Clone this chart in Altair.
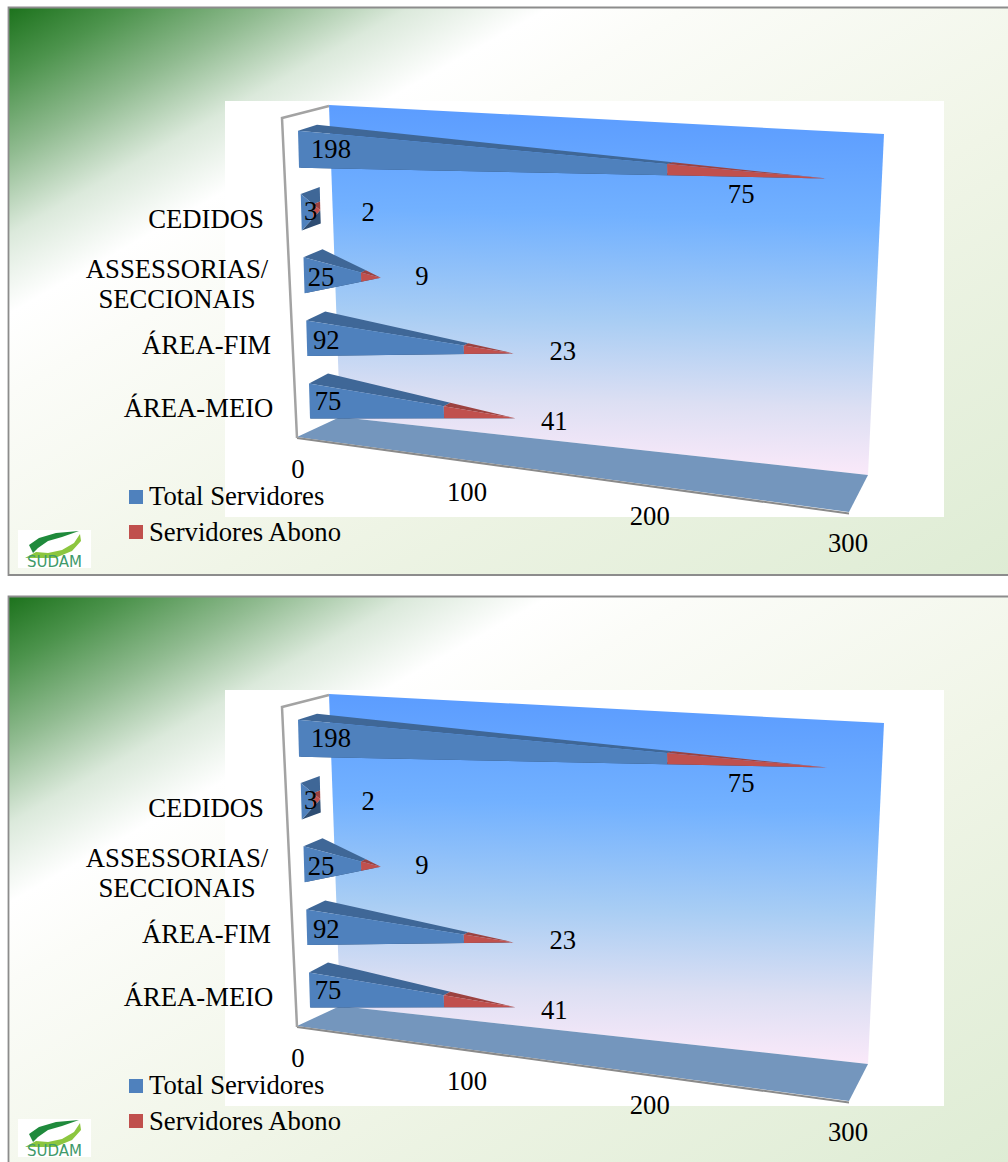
import altair as alt
import pandas as pd

# Chart values, listed from the bottom row upwards
categories = ["ÁREA-MEIO", "ÁREA-FIM", "ASSESSORIAS/\nSECCIONAIS", "CEDIDOS", ""]
total_servidores = [75, 92, 25, 3, 198]
servidores_abono = [41, 23, 9, 2, 75]
axis_ticks = [0, 100, 200, 300]
series_names = ["Total Servidores", "Servidores Abono"]

W, H = 1008, 1162
PANEL_OFFSETS = [0, 589]
SERIF = "Liberation Serif"
TEXT_SIZE = 26.7
BLUE, BLUE_DARK, BLUE_DEEP = "#4f81bd", "#3f6797", "#2e4d73"
RED, RED_DARK = "#c0504d", "#9c4240"

# Per-row corrections for the foreshortening of the 3D rows
reach_nudge = [-2, 1, 7, -6, -2]
split_nudge = [4, -5, 6, -3, 8]


# Perspective helpers for the pseudo-3D bar chart
def bar_length(v):
    return 1.5 * v / (1 - 0.00074 * v)


def tick_length(v):
    return 1.627 * v / (1 - 0.000375 * v)


def lerp(a, b, f):
    return (a[0] + (b[0] - a[0]) * f, a[1] + (b[1] - a[1]) * f)


def polygons_for_row(i, v1, v2):
    x0 = 309 - 2.75 * i
    yb = 418.6 - 62.7 * i
    h = 35 + 0.5 * i
    dy = 10 - i
    b1 = (x0 + 1, yb)
    t1 = (x0, yb - h)
    t2 = (x0 + 19, yb - h - dy)
    b2 = (x0 + 20, yb - dy)
    reach = bar_length(v1 + v2) + 18 + reach_nudge[i]
    apex = (x0 + reach, yb - h / 2 - dy / 2 + (0.107 - 0.0115 * i) * reach)
    f = (bar_length(v1) + 18 * v1 / (v1 + v2) + split_nudge[i]) / reach
    b1f, t1f, t2f = lerp(b1, apex, f), lerp(t1, apex, f), lerp(t2, apex, f)
    return apex, [
        ([b1, b2, apex], BLUE_DEEP),
        ([t1, t2, t2f, t1f], BLUE_DARK),
        ([t1f, t2f, apex], RED_DARK),
        ([b1, t1, t1f, b1f], BLUE),
        ([b1f, t1f, apex], RED),
    ]


def frame(points, **extra):
    rows = [{"x": p[0], "y": p[1], "order": n, **extra} for n, p in enumerate(points)]
    return pd.DataFrame(rows)


SCALE_X = alt.Scale(domain=[0, W], range=[0, W])
SCALE_Y = alt.Scale(domain=[0, H], range=[0, H])
X = alt.X("x:Q", scale=SCALE_X, axis=None)
Y = alt.Y("y:Q", scale=SCALE_Y, axis=None)


def shift(points, off):
    return [(a, b + off) for a, b in points]


def filled(points, paint):
    return (
        alt.Chart(frame(points))
        .mark_line(fill=paint, strokeWidth=0, strokeOpacity=0, interpolate="linear")
        .encode(x=X, y=Y, order="order:Q")
    )


def stroked(points, colour, width):
    return (
        alt.Chart(frame(points))
        .mark_line(color=colour, strokeWidth=width, strokeJoin="miter")
        .encode(x=X, y=Y, order="order:Q")
    )


def box(x1, y1, x2, y2, paint):
    df = pd.DataFrame([{"x": x1, "y": y1, "x2": x2, "y2": y2}])
    return (
        alt.Chart(df)
        .mark_rect(fill=paint)
        .encode(x=X, y=Y, x2="x2:Q", y2="y2:Q")
    )


def linear(stops, x1, y1, x2, y2):
    return alt.LinearGradient(
        gradient="linear",
        stops=[alt.GradientStop(offset=o, color=c) for o, c in stops],
        x1=x1, y1=y1, x2=x2, y2=y2,
    )


SLIDE_FILL = linear(
    [(0, "#1c721c"), (0.06, "#4c934c"), (0.13, "#90bb90"), (0.2, "#dbe9db"),
     (0.27, "#ffffff"), (0.34, "#fbfcf8"), (0.6, "#f0f5e7"), (1, "#deecd4")],
    0, 0, 1, 1,
)
WALL_FILL = linear(
    [(0, "#5a9bff"), (0.3, "#72b1ff"), (0.58, "#a8cdf4"), (0.8, "#dcdff3"), (1, "#fdeafa")],
    0.52, 0, 0.48, 1,
)

LEAF_DARK = [(79, 531), (56, 533), (39, 538), (29, 545), (33, 553), (38, 548), (48, 541), (62, 537)]
LEAF_LIGHT = [(25, 558), (55, 558), (72, 551), (81, 541), (80, 534), (74, 543), (62, 550), (48, 553), (36, 552)]

blue_label_dx = [19, 20, 17.5, 10, 33]
blue_label_dy = [-16.5, -15, -15, -19, -18]
red_label_dx = [39, 49, 41, 48, -86]
red_label_dy = [4, -1, -1, 3, 16]
category_x = [198.5, 206.5, 177, 206, 0]
category_y = [409, 346, 285, 220, 0]


def panel(off):
    layers = [
        box(8.5, 7.5 + off, W + 4, 575 + off, SLIDE_FILL),
        stroked(shift([(W + 4, 7.5), (8.5, 7.5), (8.5, 575), (W + 4, 575)], off), "#8c8c8c", 1.8),
        box(225, 101 + off, 944, 517 + off, "#ffffff"),
        filled(shift([(329, 105), (884, 134), (868, 475), (340, 417)], off), WALL_FILL),
        filled(shift([(340, 417), (868, 475), (849, 512), (297, 437)], off), "#7496bd"),
        stroked(shift([(297, 438), (849, 513.5)], off), "#8a8a8a", 2),
        stroked(shift([(297, 438), (282, 118), (329, 106)], off), "#a3a3a3", 2.5),
    ]

    # Spikes for both series, drawn from the row values
    faces = []
    apexes = []
    for i, (v1, v2) in enumerate(zip(total_servidores, servidores_abono)):
        apex, polys = polygons_for_row(i, v1, v2)
        apexes.append(apex)
        for k, (pts, colour) in enumerate(polys):
            d = frame(shift(pts, off), poly=f"{i}-{k}", paint=colour)
            faces.append(d)
    face_df = pd.concat(faces, ignore_index=True)
    layers.append(
        alt.Chart(face_df)
        .mark_line(strokeWidth=0, strokeOpacity=0)
        .encode(
            x=X, y=Y, order="order:Q", detail="poly:N",
            fill=alt.Fill("paint:N", scale=None),
        )
    )

    # Text: data labels, categories, axis ticks and legend entries
    text_rows = []
    for i, (v1, v2) in enumerate(zip(total_servidores, servidores_abono)):
        x0 = 309 - 2.75 * i
        yb = 418.6 - 62.7 * i
        text_rows.append({"x": x0 + blue_label_dx[i], "y": yb + blue_label_dy[i] + off, "t": str(v1)})
        text_rows.append({"x": apexes[i][0] + red_label_dx[i], "y": apexes[i][1] + red_label_dy[i] + off, "t": str(v2)})
        lines = [c for c in categories[i].split("\n") if c]
        for n, line in enumerate(lines):
            text_rows.append({"x": category_x[i], "y": category_y[i] + off + (n - (len(lines) - 1) / 2) * 30, "t": line})
    for v in axis_ticks:
        dx = tick_length(v)
        text_rows.append({"x": 298 + dx, "y": 470 + 0.135 * dx + off, "t": str(v)})
    layers.append(
        alt.Chart(pd.DataFrame(text_rows))
        .mark_text(font=SERIF, fontSize=TEXT_SIZE, color="#000000", baseline="middle", align="center")
        .encode(x=X, y=Y, text="t:N")
    )

    legend = pd.DataFrame([
        {"x": 136, "tx": 149, "y": 497 + off, "ty": 497 + off, "name": series_names[0], "paint": BLUE},
        {"x": 136, "tx": 149, "y": 532 + off, "ty": 533 + off, "name": series_names[1], "paint": RED},
    ])
    layers.append(
        alt.Chart(legend).mark_square(size=196, opacity=1, strokeWidth=0)
        .encode(x=X, y=Y, fill=alt.Fill("paint:N", scale=None))
    )
    layers.append(
        alt.Chart(legend).mark_text(font=SERIF, fontSize=TEXT_SIZE, color="#000000", align="left", baseline="middle")
        .encode(x=alt.X("tx:Q", scale=SCALE_X, axis=None), y=alt.Y("ty:Q", scale=SCALE_Y, axis=None), text="name:N")
    )

    # Organisation logo in the lower left corner
    layers += [
        box(18, 530 + off, 91, 568 + off, "#ffffff"),
        filled(shift(LEAF_DARK, off), "#1f8a3c"),
        filled(shift(LEAF_LIGHT, off), "#8cc63f"),
        alt.Chart(pd.DataFrame([{"x": 54.5, "y": 562 + off, "t": "SUDAM"}]))
        .mark_text(font="DejaVu Sans", fontSize=15, color="#3f9a6a", align="center", baseline="middle")
        .encode(x=X, y=Y, text="t:N"),
    ]
    return layers


all_layers = []
for off in PANEL_OFFSETS:
    all_layers += panel(off)

chart = (
    alt.layer(*all_layers)
    .properties(width=W, height=H, padding=0, autosize=alt.AutoSizeParams(type="none"),
                background="#ffffff")
    .configure_view(stroke=None)
)

chart.save("out.html", embed_options={"renderer": "svg", "actions": False})
